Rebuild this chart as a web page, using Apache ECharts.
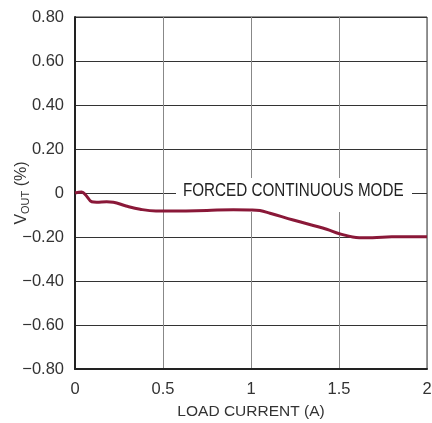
<!DOCTYPE html>
<html><head><meta charset="utf-8">
<script src="https://cdn.jsdelivr.net/npm/echarts@6/dist/echarts.min.js"></script>
<style>html,body{margin:0;padding:0;background:#fff}#c{width:432px;height:423px}</style>
</head><body><div id="c"></div>
<script>
var loadCurrent = [0, 0.038, 0.062, 0.095, 0.123, 0.18, 0.218, 0.29, 0.37, 0.46, 0.58, 0.75, 0.9, 0.994, 1.05, 1.108, 1.24, 1.43, 1.502, 1.615, 1.69, 1.8, 2.0];
var vout = [0, 0.005, -0.01, -0.04, -0.042, -0.04, -0.042, -0.059, -0.074, -0.082, -0.082, -0.079, -0.076, -0.077, -0.08, -0.092, -0.123, -0.165, -0.185, -0.203, -0.203, -0.199, -0.199];
var yTicks = {'0.8':'0.80','0.6':'0.60','0.4':'0.40','0.2':'0.20','0':'0','-0.2':'\u22120.20','-0.4':'\u22120.40','-0.6':'\u22120.60','-0.8':'\u22120.80'};
var xTicks = {'0':'0','0.5':'0.5','1':'1','1.5':'1.5','2':'2'};
var annotation = 'FORCED CONTINUOUS MODE';

var FONT = "'Liberation Sans', Arial, sans-serif";
var chart = echarts.init(document.getElementById('c'), null, {renderer:'canvas'});
var data = loadCurrent.map(function(x,i){return [x, vout[i]];});
chart.setOption({
  animation:false,
  grid:{left:75, top:17, right:5, bottom:54, show:true, borderColor:'#333', borderWidth:1, backgroundColor:'transparent', containLabel:false, outerBoundsMode:'none'},
  xAxis:{type:'value', min:0, max:2, interval:0.5,
    axisLine:{show:true, onZero:false, lineStyle:{color:'#222', width:2}},
    axisTick:{show:false},
    splitLine:{show:true, lineStyle:{color:'#888', width:1}},
    axisLabel:{color:'#333', fontFamily:FONT, fontSize:16.5, margin:12, formatter:function(v){return xTicks[String(v)] || '';}},
    name:'LOAD CURRENT (A)', nameLocation:'middle', nameGap:35, nameMoveOverlap:false,
    nameTextStyle:{color:'#333', fontFamily:FONT, fontSize:15.5}
  },
  yAxis:{type:'value', min:-0.8, max:0.8, interval:0.2,
    axisLine:{show:true, onZero:false, lineStyle:{color:'#222', width:2}},
    axisTick:{show:false},
    splitLine:{show:true, lineStyle:{color:'#333', width:1}},
    axisLabel:{color:'#333', fontFamily:FONT, fontSize:16.5, margin:11, formatter:function(v){var k=String(Math.round(v*10)/10); return yTicks[k]!==undefined?yTicks[k]:'';}},
    name:'{a|V}{b|OUT}{a| (%)}', nameLocation:'middle', nameGap:44, nameRotate:90, nameMoveOverlap:false,
    nameTextStyle:{color:'#333', rich:{a:{fontFamily:FONT, fontSize:16, color:'#333'}, b:{fontFamily:FONT, fontSize:11, color:'#333', padding:[7,0,0,0]}}}
  },
  graphic:[
    {type:'rect', z:1, shape:{x:176, y:178, width:236, height:34}, style:{fill:'#fff'}},
    {type:'text', z:1, x:183, y:182, scaleX:0.845,
      style:{text:annotation, fontFamily:FONT, fontSize:18, fill:'#222', align:'left', verticalAlign:'top'}}
  ],
  series:[{type:'line', data:data, smooth:0.4, symbol:'none', z:3,
    lineStyle:{color:'#8A1838', width:3}}]
});
</script></body></html>
